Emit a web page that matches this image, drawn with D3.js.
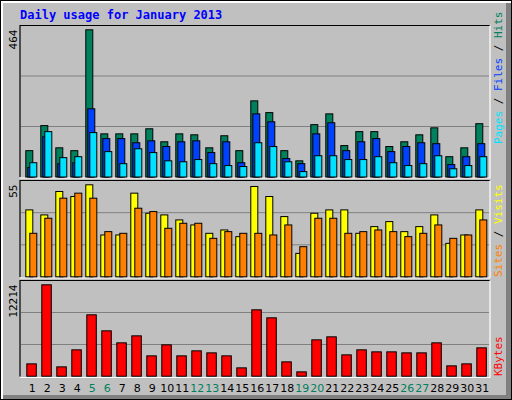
<!DOCTYPE html>
<html><head><meta charset="utf-8">
<script src="https://cdn.jsdelivr.net/npm/d3@7"></script>
<style>body{margin:0;background:#fff}</style>
</head><body>
<svg id="chart" width="512" height="400"></svg>
<script>
const days = d3.range(1, 32);
const weekend = [5, 6, 12, 13, 19, 20, 26, 27];
const hits  = [83,162,92,83,464,136,136,136,152,111,136,133,92,130,83,240,203,83,51,165,199,99,143,143,96,111,133,155,64,92,168];
const files = [30,127,42,45,215,121,121,108,114,96,111,114,77,111,45,199,174,58,42,136,171,83,111,121,80,96,108,105,39,64,105];
const pages = [45,143,61,64,140,80,42,89,77,51,48,55,42,36,33,108,96,48,17,67,67,55,55,64,45,36,42,67,26,36,64];
const visits = [40,37,51,48,55,25,25,50,38,37,34,31,26,28,24,54,48,36,14,38,40,40,26,30,33,27,30,37,20,25,40];
const sites  = [26,35,47,50,47,27,26,41,39,29,32,32,23,27,26,26,25,31,18,35,35,26,27,28,27,24,26,31,23,25,34];
const kbytes = [1649,12214,1248,3522,8202,6062,4458,5394,2719,4190,2719,3388,3120,2719,1114,8871,7801,1917,580,4859,5260,2853,3522,3254,3254,3120,3120,4458,1382,1649,3789];

const svg = d3.select("#chart");
const font = "'DejaVu Sans Mono', monospace";

// outer frame
svg.append("rect").attr("x", 0).attr("y", 0).attr("width", 512).attr("height", 400).attr("fill", "#000");
svg.append("rect").attr("x", 1).attr("y", 1).attr("width", 510).attr("height", 398).attr("fill", "#fff");
svg.append("rect").attr("x", 3).attr("y", 3).attr("width", 508).attr("height", 396).attr("fill", "#808080");
svg.append("rect").attr("x", 3).attr("y", 3).attr("width", 503).attr("height", 392).attr("fill", "#c0c0c0");

svg.append("text").attr("x", 20).attr("y", 19).text("Daily usage for January 2013")
  .attr("font-family", font).attr("font-weight", "bold").attr("font-size", 12).attr("fill", "#0000ff");

const x = d3.scaleLinear().domain([1, 31]).range([25.3, 475.3]);
const L = 20, R = 490;

function panel(top, bottom, max) {
  const g = svg.append("g");
  g.append("rect").attr("x", L).attr("y", top).attr("width", R - L).attr("height", bottom - top).attr("fill", "#c0c0c0");
  const h = bottom - top;
  [1 / 3, 2 / 3].forEach(f => {
    g.append("line").attr("x1", L + 1).attr("x2", R - 1)
      .attr("y1", bottom - h * f).attr("y2", bottom - h * f).attr("stroke", "#808080");
  });
  g.append("path").attr("d", `M${L},${bottom}V${top}H${R}`).attr("fill", "none").attr("stroke", "#000").attr("stroke-width", 1.2);
  g.append("path").attr("d", `M${R},${top}V${bottom + 1}H${L}`).attr("fill", "none").attr("stroke", "#fff").attr("stroke-width", 1.2);
  g.append("text").attr("transform", `translate(17,${top + 4}) rotate(-90)`).attr("text-anchor", "end")
    .text(max).attr("font-family", font).attr("font-size", 11).attr("fill", "#000");
  return g;
}

function bars(g, data, y, off, w, color) {
  g.selectAll(null).data(data).enter().append("rect")
    .attr("x", (d, i) => x(days[i]) + off + 0.5)
    .attr("y", d => y(d) + 0.5)
    .attr("width", w)
    .attr("height", d => y(0) - y(d))
    .attr("fill", color).attr("stroke", "#000").attr("stroke-width", 1);
}

// top panel
const p1 = panel(25.5, 177, 464);
const y1 = d3.scaleLinear().domain([0, 464]).range([176.5, 29.3]);
bars(p1, hits, y1, 0, 7, "#00805c");
bars(p1, files, y1, 2, 7, "#0040ff");
bars(p1, pages, y1, 4, 7, "#00e0ff");

// middle panel
const p2 = panel(180.5, 277, 55);
const y2 = d3.scaleLinear().domain([0, 55]).range([276.3, 184.3]);
bars(p2, visits, y2, 0, 7, "#ffff00");
bars(p2, sites, y2, 4, 7, "#ff8000");

// bottom panel
const p3 = panel(280.5, 376.5, 12214);
const y3 = d3.scaleLinear().domain([0, 12214]).range([375.7, 284.3]);
bars(p3, kbytes, y3, 1, 9.5, "#ff0000");

// day labels
svg.selectAll(".day").data(days).enter().append("text")
  .attr("x", d => x(d) + 7).attr("y", 392).attr("text-anchor", "middle")
  .text(d => d).attr("font-family", "'DejaVu Sans', sans-serif").attr("font-size", 11)
  .attr("fill", d => weekend.includes(d) ? "#00805c" : "#000");

// right legends
function legend(yBottom, parts) {
  const t = svg.append("text").attr("transform", `translate(502,${yBottom}) rotate(-90)`)
    .attr("font-family", font).attr("font-size", 11);
  parts.forEach(([s, c]) => t.append("tspan").text(s).attr("fill", c));
}
legend(144, [["Pages", "#00e0ff"], [" / ", "#000"], ["Files", "#0040ff"], [" / ", "#000"], ["Hits", "#00805c"]]);
legend(277, [["Sites", "#ff8000"], [" / ", "#000"], ["Visits", "#ffff00"]]);
legend(376, [["KBytes", "#ff0000"]]);
</script>
</body></html>
